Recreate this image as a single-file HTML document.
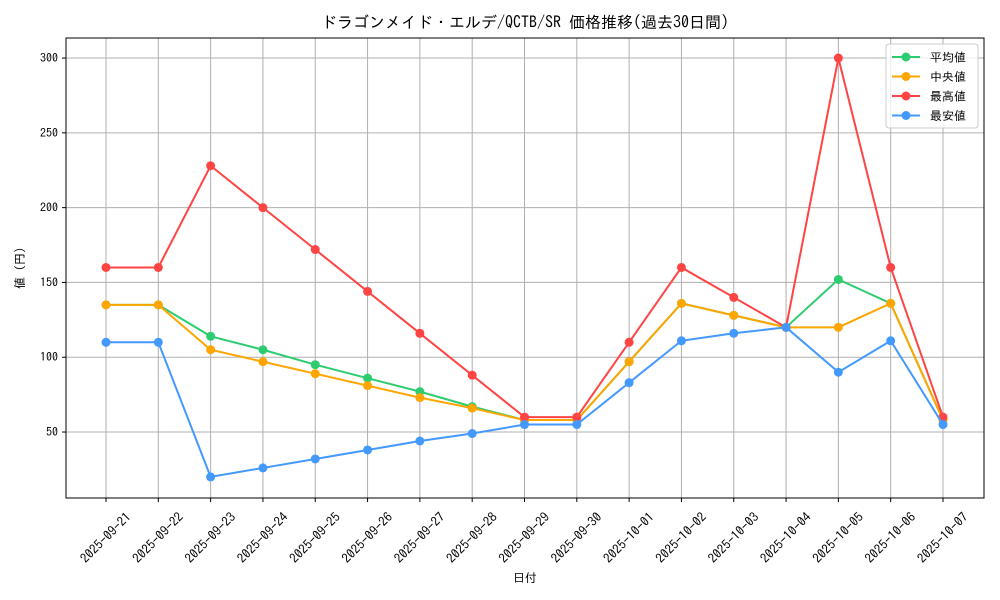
<!DOCTYPE html>
<html><head><meta charset="utf-8">
<style>
html,body{margin:0;padding:0;background:#fff;}
svg{display:block;font-family:"IPAGothic","Noto Sans CJK JP",sans-serif;}
</style></head>
<body>
<svg id="chart" width="1000" height="600" viewBox="0 0 1000 600">
<text x="525" y="28" text-anchor="middle" font-size="16">ドラゴンメイド・エルデ/QCTB/SR 価格推移(過去30日間)</text>
<g id="grid"></g>
<g id="axes"></g>
<g id="series"></g>
<rect x="66" y="38" width="918" height="460" fill="none" stroke="#000" stroke-width="1"/>
<text x="525" y="582" text-anchor="middle" font-size="12">日付</text>
<text transform="translate(24,268) rotate(-90)" text-anchor="middle" font-size="12">値 (円)</text>
<g id="legend"></g>
</svg>
<script>
const categories=["2025-09-21","2025-09-22","2025-09-23","2025-09-24","2025-09-25","2025-09-26","2025-09-27","2025-09-28","2025-09-29","2025-09-30","2025-10-01","2025-10-02","2025-10-03","2025-10-04","2025-10-05","2025-10-06","2025-10-07"];
const avgValues=[135,135,114,105,95,86,77,67,58,58,97,136,128,120,152,136,58];
const medianValues=[135,135,105,97,89,81,73,66,58,58,97,136,128,120,120,136,58];
const maxValues=[160,160,228,200,172,144,116,88,60,60,110,160,140,120,300,160,60];
const minValues=[110,110,20,26,32,38,44,49,55,55,83,111,116,120,90,111,55];
const yTicks=[50,100,150,200,250,300];
const seriesNames=["平均値","中央値","最高値","最安値"];

const NS="http://www.w3.org/2000/svg";
function mk(tag,attrs,parent){const e=document.createElementNS(NS,tag);for(const k in attrs)e.setAttribute(k,attrs[k]);parent.appendChild(e);return e;}
const yMin=5.9,yMax=313.4,plotTop=38,plotBot=498;
function yScale(v){return plotBot-(v-yMin)/(yMax-yMin)*(plotBot-plotTop);}
function xScale(i){return 106+i*(943-106)/(categories.length-1);}
const grid=document.getElementById('grid'),axes=document.getElementById('axes'),ser=document.getElementById('series'),leg=document.getElementById('legend');
categories.forEach((c,i)=>{
  const x=xScale(i);
  const g=mk('line',{x1:x,x2:x,y1:plotTop,y2:plotBot,stroke:'#b0b0b0','stroke-width':1},grid);
  
  
  mk('line',{x1:x,x2:x,y1:plotBot,y2:plotBot+4,stroke:'#000'},axes);
  const t=mk('text',{x:0,y:4,'font-size':13,'text-anchor':'middle',transform:`translate(${x},${plotBot+40}) rotate(-45)`},axes);
  t.textContent=c;
  
  
});
yTicks.forEach(v=>{
  const y=yScale(v);
  const g=mk('line',{x1:66,x2:984,y1:y,y2:y,stroke:'#b0b0b0','stroke-width':1},grid);
  
  
  mk('line',{x1:62,x2:66,y1:y,y2:y,stroke:'#000'},axes);
  const t=mk('text',{x:58,y:y+4,'font-size':12,'text-anchor':'end'},axes);
  t.textContent=v;
  
  
});
const allSeries=[avgValues,medianValues,maxValues,minValues];
const colors=["#2ecc71","#ffa500","#ff4444","#4499ff"];
const snames=["series-average","series-median","series-max","series-min"];
allSeries.forEach((vals,s)=>{
  const g=mk('g',{},ser);
  
  
  const pts=vals.map((v,i)=>xScale(i)+','+yScale(v)).join(' ');
  mk('polyline',{points:pts,fill:'none',stroke:colors[s],'stroke-width':2},g);
  vals.forEach((v,i)=>{
    const c=mk('circle',{cx:xScale(i),cy:yScale(v),r:4.5,fill:colors[s]},g);
    
    
  });
});
mk('rect',{x:886,y:44,width:92,height:84,rx:3,fill:'#fff','fill-opacity':0.8,stroke:'#ccc'},leg);
seriesNames.forEach((n,s)=>{
  const y=57+s*19.5;
  const e=mk('g',{},leg);
  
  
  mk('line',{x1:892,x2:920,y1:y,y2:y,stroke:colors[s],'stroke-width':2},e);
  mk('circle',{cx:906,cy:y,r:4.5,fill:colors[s]},e);
  const t=mk('text',{x:930,y:y+4.5,'font-size':12},e);
  t.textContent=n;
});
</script>
</body></html>
